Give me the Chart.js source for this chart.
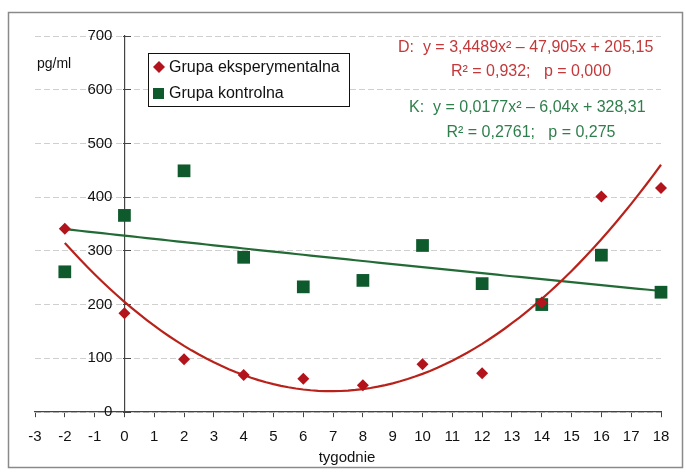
<!DOCTYPE html>
<html>
<head>
<meta charset="utf-8">
<script src="https://cdn.jsdelivr.net/npm/chart.js@4/dist/chart.umd.min.js"></script>
<style>
  html, body { margin: 0; padding: 0; background: #fff; }
  #wrap { width: 686px; height: 472px; position: relative; }
</style>
</head>
<body>
<div id="wrap"><canvas id="c" width="686" height="472"></canvas></div>
<script>
// ---- data ----
const weeks = [-2, 0, 2, 4, 6, 8, 10, 12, 14, 16, 18];
const expValues = [341, 184, 98, 69, 62, 50, 89, 72, 204, 401, 417];
const ctrlValues = [261, 366, 449, 288, 233, 245, 310, 239, 200, 292, 223];
const expLabel = 'Grupa eksperymentalna';
const ctrlLabel = 'Grupa kontrolna';
// trendline coefficients shown on the chart (a, b, c of a*x^2 + b*x + c)
const expTrendCoef = [3.4489, -47.905, 205.15];
const ctrlTrendCoef = [0.0177, -6.04, 328.31];
const expEquation = ['D:  y = 3,4489x\u00B2 \u2013 47,905x + 205,15', 'R\u00B2 = 0,932;   p = 0,000'];
const ctrlEquation = ['K:  y = 0,0177x\u00B2 \u2013 6,04x + 328,31', 'R\u00B2 = 0,2761;   p = 0,275'];
const xTitle = 'tygodnie';
const yTitle = 'pg/ml';

const RED = '#b3141c';
const RED_LINE = '#b8221a';
const GREEN = '#0e5a2c';
const GREEN_LINE = '#236b36';
const RED_TEXT = '#c4383a';
const GREEN_TEXT = '#2f7f4c';
const FONT = '"Liberation Sans", Arial, sans-serif';
const Y_TICK_LEN = 8;
const Y_LABEL_GAP = 4;

function trend(coef) {
  const pts = [];
  const x0 = weeks[0], x1 = weeks[weeks.length - 1];
  for (let i = 0; i <= 80; i++) {
    const x = x0 + (x1 - x0) * i / 80;
    pts.push({ x: x, y: coef[0] * x * x + coef[1] * x + coef[2] });
  }
  return pts;
}

const decor = {
  id: 'decor',
  beforeDraw(chart) {
    const ctx = chart.ctx;
    ctx.save();
    ctx.fillStyle = '#fff';
    ctx.fillRect(0, 0, chart.width, chart.height);
    ctx.strokeStyle = '#8a8a8a';
    ctx.lineWidth = 1.5;
    ctx.strokeRect(8.5, 12.5, 674, 455);
    ctx.restore();
  },
  afterDraw(chart) {
    const ctx = chart.ctx;
    ctx.save();
    ctx.fillStyle = '#111';
    ctx.font = '14px ' + FONT;
    ctx.textBaseline = 'middle';
    ctx.textAlign = 'left';
    ctx.fillText(yTitle, 37, 64);
    ctx.font = '15px ' + FONT;
    ctx.textAlign = 'center';
    ctx.fillText(xTitle, 347, 458);

    // legend box
    ctx.fillStyle = '#fff';
    ctx.fillRect(148, 53, 201, 53);
    ctx.strokeStyle = '#111';
    ctx.lineWidth = 1;
    ctx.strokeRect(148.5, 53.5, 201, 53);
    ctx.fillStyle = RED;
    ctx.beginPath();
    ctx.moveTo(159, 61); ctx.lineTo(165, 67); ctx.lineTo(159, 73); ctx.lineTo(153, 67);
    ctx.closePath(); ctx.fill();
    ctx.fillStyle = GREEN;
    ctx.fillRect(153, 88, 11, 11);
    ctx.fillStyle = '#111';
    ctx.font = '16px ' + FONT;
    ctx.textAlign = 'left';
    ctx.fillText(expLabel, 169, 68);
    ctx.fillText(ctrlLabel, 169, 94);

    // equations
    ctx.font = '16px ' + FONT;
    ctx.fillStyle = RED_TEXT;
    ctx.textAlign = 'left';
    ctx.fillText(expEquation[0], 398, 48);
    ctx.textAlign = 'center';
    ctx.fillText(expEquation[1], 531, 72);
    ctx.fillStyle = GREEN_TEXT;
    ctx.textAlign = 'left';
    ctx.fillText(ctrlEquation[0], 409, 108);
    ctx.textAlign = 'center';
    ctx.fillText(ctrlEquation[1], 531, 133);
    ctx.restore();
  }
};

// y axis sits at x = 0: put its tick marks and labels on the left side of the line
function patchYScale(scale) {
  if (scale._leftPatched) return;
  scale._leftPatched = true;
  const origLabels = scale._computeLabelItems.bind(scale);
  scale._computeLabelItems = function (ca) {
    const items = origLabels(ca);
    items.forEach(it => {
      it.options.translation[0] -= (Y_TICK_LEN + Y_LABEL_GAP);
      it.options.textAlign = 'right';
    });
    return items;
  };
  const origGrid = scale._computeGridLineItems.bind(scale);
  scale._computeGridLineItems = function (ca) {
    const items = origGrid(ca);
    items.forEach(it => {
      const d = it.tx2 - it.tx1;
      const start = it.tx1 - 1;
      it.tx1 = start;
      it.tx2 = start - d;
    });
    return items;
  };
}

new Chart(document.getElementById('c'), {
  type: 'scatter',
  data: {
    datasets: [
      {
        label: 'trend D', type: 'line', data: trend(expTrendCoef),
        borderColor: RED_LINE, borderWidth: 2.2, pointRadius: 0, fill: false, tension: 0, order: 3, clip: false
      },
      {
        label: 'trend K', type: 'line', data: trend(ctrlTrendCoef),
        borderColor: GREEN_LINE, borderWidth: 2.2, pointRadius: 0, fill: false, tension: 0, order: 3, clip: false
      },
      {
        label: ctrlLabel, data: weeks.map((w, i) => ({ x: w, y: ctrlValues[i] })),
        pointStyle: 'rect', pointRadius: 9, backgroundColor: GREEN, borderColor: GREEN, borderWidth: 0, order: 2, clip: false
      },
      {
        label: expLabel, data: weeks.map((w, i) => ({ x: w, y: expValues[i] })),
        pointStyle: 'rectRot', pointRadius: 6, backgroundColor: RED, borderColor: RED, borderWidth: 0, order: 1, clip: false
      }
    ]
  },
  options: {
    responsive: false,
    animation: false,
    devicePixelRatio: 1,
    layout: { padding: { left: 35, right: 25, top: 36, bottom: 60 } },
    plugins: { legend: { display: false }, tooltip: { enabled: false }, title: { display: false } },
    scales: {
      x: {
        type: 'linear', min: -3, max: 18,
        position: { y: 0 },
        ticks: { stepSize: 1, color: '#111', font: { family: FONT, size: 15 }, padding: 11, maxRotation: 0, autoSkip: false },
        grid: { drawOnChartArea: false, drawTicks: true, tickLength: 5, tickColor: '#444', tickWidth: 1 },
        border: { display: true, color: '#444', width: 1.2 }
      },
      y: {
        type: 'linear', min: 0, max: 700,
        position: { x: 0 },
        afterUpdate: patchYScale,
        ticks: { stepSize: 100, color: '#111', font: { family: FONT, size: 15 }, padding: 3 },
        grid: { color: '#cfcfcf', lineWidth: 1, tickLength: Y_TICK_LEN, tickColor: '#444', drawTicks: true },
        border: { display: true, color: '#444', width: 1.2, dash: [6, 3] }
      }
    }
  },
  plugins: [decor]
});
</script>
</body>
</html>
